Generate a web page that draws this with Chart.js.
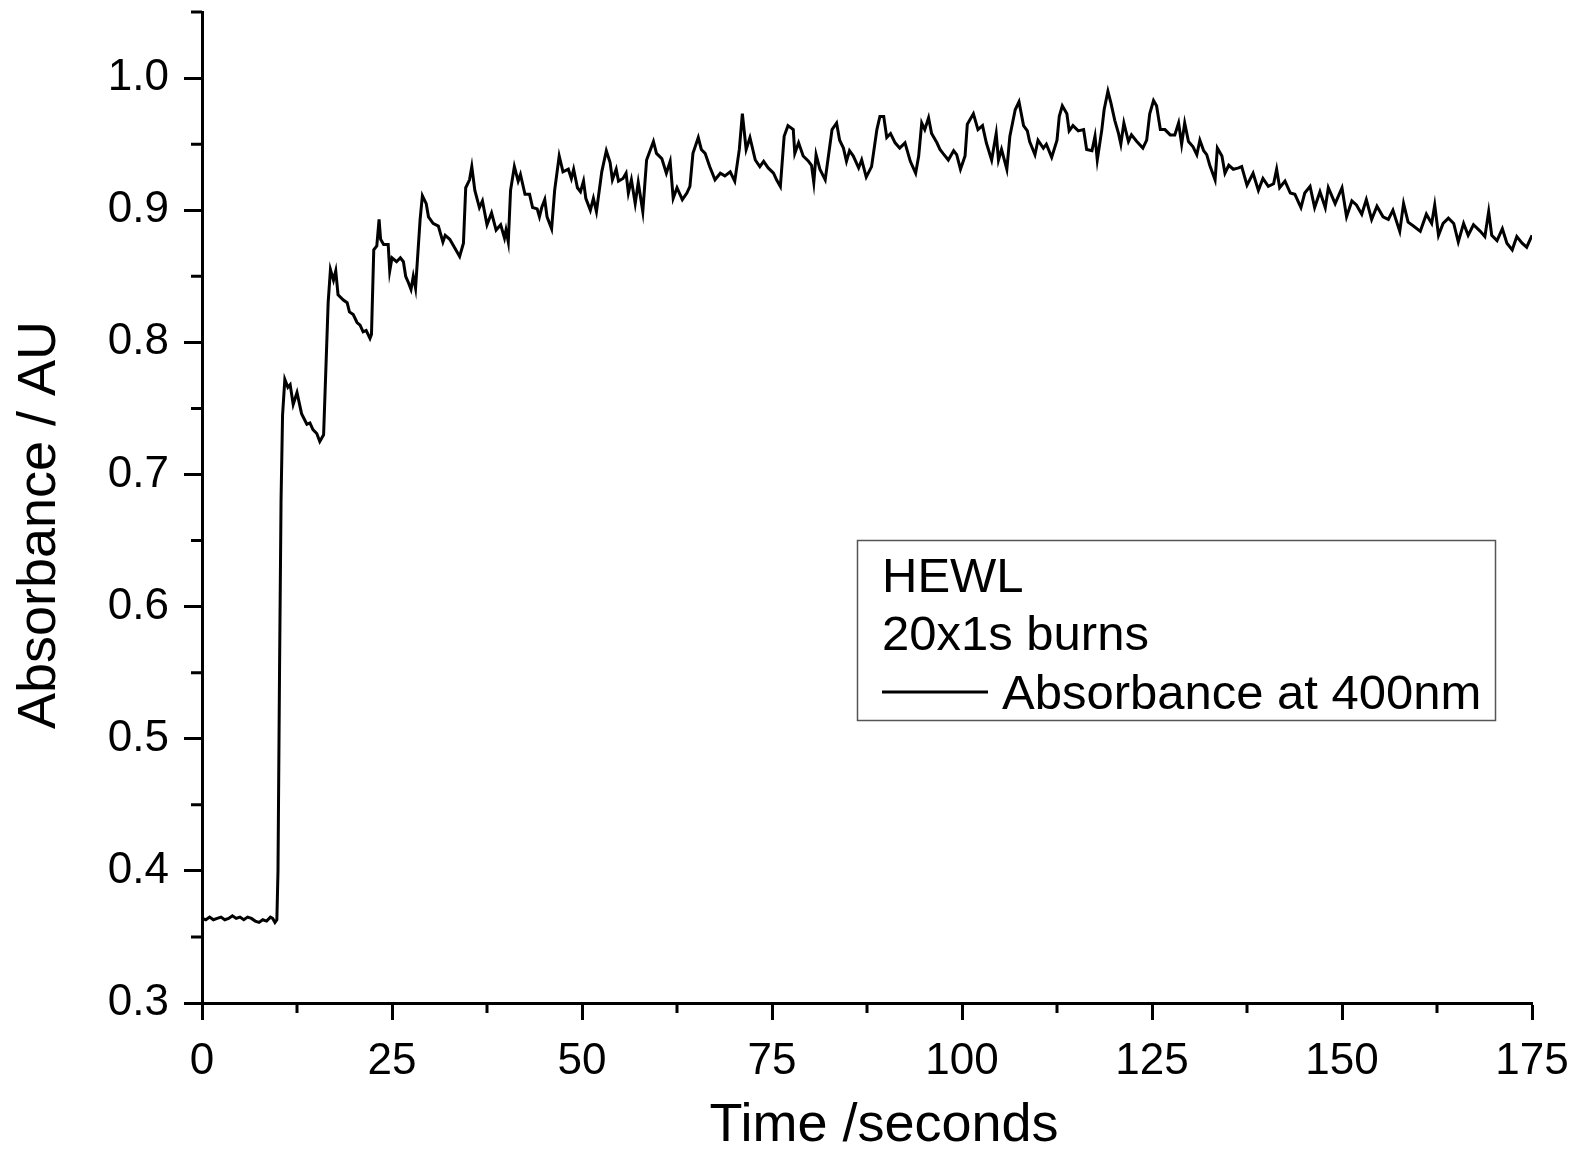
<!DOCTYPE html>
<html>
<head>
<meta charset="utf-8">
<script src="https://cdn.jsdelivr.net/npm/chart.js@4.4.1/dist/chart.umd.min.js"></script>
<style>
    html, body { margin: 0; padding: 0; background: #fff; overflow: hidden; }
    canvas { display: block; }
</style>
</head>
<body>
<canvas id="chart" width="1576" height="1151"></canvas>
<script>
// Data
const times = [
    0.0, 0.5, 1.0, 1.5, 2.0, 2.5, 3.0, 3.5, 4.0, 4.5, 5.0, 5.5, 6.0, 6.5, 7.0, 7.5, 8.0, 8.5, 9.0, 9.3, 9.6, 9.85,
    10.0, 10.2, 10.4, 10.6, 10.9, 11.3, 11.6, 12.0, 12.5, 13.1, 13.8, 14.2, 14.6, 15.1, 15.5, 16.0,
    16.6, 16.9, 17.3, 17.6, 17.9, 18.6, 19.1, 19.4, 19.9, 20.4, 20.8, 21.2, 21.6, 22.1, 22.3,
    22.6, 23.0, 23.3, 23.5, 23.9, 24.5, 24.7, 25.0, 25.6, 26.1, 26.5, 26.8, 27.1, 27.5, 27.8, 28.1,
    28.7, 29.0, 29.5, 29.8, 30.4, 31.1, 31.7, 32.0, 32.6, 33.3, 33.9, 34.4,
    34.7, 35.2, 35.5, 35.9, 36.5, 36.9, 37.5, 38.1, 38.7, 39.3, 39.8, 40.0, 40.3,
    40.6, 41.1, 41.6, 41.9, 42.5, 43.1, 43.5, 44.1, 44.4, 44.7, 45.1, 45.4, 46.0,
    46.4, 47.0, 47.5, 48.2, 48.6, 48.9, 49.4, 49.8, 50.2, 50.5, 51.1, 51.5, 51.9,
    52.6, 53.2, 53.7, 54.0, 54.5, 54.8, 55.4, 55.8, 56.1, 56.5, 57.0, 57.4, 58.0,
    58.5, 59.4, 59.8, 60.5, 61.1, 61.6, 62.0, 62.5, 63.2, 63.8, 64.2,
    64.6, 65.3, 65.7, 66.2, 66.8, 67.5, 68.2, 68.8, 69.5, 70.1,
    70.7, 71.1, 71.6, 72.1, 72.8, 73.4, 73.9, 74.5, 75.2, 75.6, 76.1,
    76.6, 77.1, 77.8, 78.0, 78.5, 79.1, 79.8, 80.2, 80.5, 80.8, 81.3, 82.0,
    82.9, 83.5, 83.9, 84.4, 84.8, 85.2, 85.7, 86.4, 86.8, 87.4, 88.1,
    88.8, 89.2, 89.7, 90.1, 90.6, 91.2, 91.8, 92.5, 93.2, 93.9, 94.3,
    94.7, 95.1, 95.6, 96.0, 96.7, 97.1, 97.5, 98.2, 98.9, 99.3, 99.8, 100.4,
    100.7, 101.5, 102.1, 102.7, 103.2, 103.9, 104.5, 104.8, 105.2, 105.9,
    106.3, 107.0, 107.5, 108.1, 108.6, 108.9, 109.6, 110.0, 110.7, 111.1, 111.8,
    112.5, 112.8, 113.2, 113.8, 114.1, 114.6, 115.3, 116.0, 116.4, 117.1, 117.5, 117.8,
    118.4, 118.7, 119.2, 119.6, 120.1, 120.6, 120.9, 121.3, 121.9, 122.3, 123.0, 123.8, 124.3,
    124.7, 125.2, 125.6, 126.1, 126.7, 127.4, 128.0, 128.5, 128.9, 129.3, 129.8, 130.4, 130.9,
    131.3, 131.8, 132.2, 132.6, 133.3, 133.6, 134.2, 134.6, 135.1, 135.7, 136.4, 136.8,
    137.5, 138.3, 139.0, 139.6, 140.3, 141.0, 141.4, 141.8, 142.5, 143.2, 143.8, 144.6,
    145.1, 145.8, 146.4, 147.1, 147.8, 148.2, 149.1, 150.0, 150.6, 151.3, 151.9, 152.6,
    153.2, 153.9, 154.6, 155.4, 156.1, 156.7, 157.6, 158.1, 158.7, 159.4, 160.3, 161.1,
    161.8, 162.2, 162.7, 163.3, 164.0, 164.7, 165.3, 166.0, 166.6, 167.3, 168.2, 168.8,
    169.3, 169.7, 170.4, 171.1, 171.7, 172.4, 173.0, 173.7, 174.3, 175.0
];
const absorbance = [
    0.364, 0.363, 0.365, 0.363, 0.364, 0.365, 0.363, 0.364, 0.366, 0.364, 0.365, 0.363, 0.365, 0.364, 0.362, 0.361, 0.363, 0.362, 0.365, 0.364, 0.361, 0.363,
    0.400, 0.550, 0.680, 0.745, 0.772, 0.766, 0.768, 0.753, 0.762, 0.746, 0.738, 0.739, 0.734, 0.731, 0.725, 0.730,
    0.830, 0.855, 0.847, 0.854, 0.836, 0.832, 0.830, 0.823, 0.821, 0.815, 0.813, 0.808, 0.809, 0.803, 0.806,
    0.870, 0.873, 0.893, 0.878, 0.874, 0.874, 0.854, 0.864, 0.861, 0.864, 0.861, 0.850, 0.846, 0.840, 0.850, 0.841,
    0.893, 0.911, 0.905, 0.895, 0.890, 0.888, 0.876, 0.881, 0.878, 0.871, 0.865, 0.875,
    0.917, 0.923, 0.933, 0.915, 0.902, 0.907, 0.889, 0.898, 0.885, 0.889, 0.879, 0.885, 0.876,
    0.915, 0.933, 0.922, 0.927, 0.912, 0.912, 0.902, 0.901, 0.895, 0.902, 0.908, 0.895, 0.886,
    0.915, 0.941, 0.929, 0.931, 0.924, 0.931, 0.917, 0.914, 0.922, 0.909, 0.900, 0.909, 0.899,
    0.929, 0.945, 0.936, 0.923, 0.931, 0.922, 0.924, 0.928, 0.913, 0.923, 0.905, 0.921, 0.899,
    0.938, 0.952, 0.943, 0.939, 0.928, 0.937, 0.909, 0.917, 0.908, 0.913, 0.918,
    0.943, 0.955, 0.946, 0.943, 0.933, 0.923, 0.928, 0.926, 0.929, 0.922,
    0.946, 0.973, 0.946, 0.955, 0.938, 0.933, 0.937, 0.932, 0.928, 0.923, 0.918,
    0.956, 0.964, 0.961, 0.943, 0.951, 0.941, 0.937, 0.934, 0.921, 0.942, 0.931, 0.923,
    0.961, 0.966, 0.953, 0.947, 0.937, 0.945, 0.941, 0.932, 0.938, 0.925, 0.933,
    0.961, 0.971, 0.971, 0.955, 0.958, 0.951, 0.947, 0.951, 0.937, 0.928, 0.941,
    0.966, 0.961, 0.970, 0.958, 0.951, 0.946, 0.943, 0.938, 0.945, 0.942, 0.931, 0.941,
    0.965, 0.973, 0.961, 0.964, 0.951, 0.938, 0.958, 0.938, 0.946, 0.931,
    0.956, 0.976, 0.982, 0.964, 0.960, 0.952, 0.942, 0.953, 0.947, 0.950, 0.940,
    0.953, 0.971, 0.979, 0.973, 0.960, 0.964, 0.960, 0.961, 0.946, 0.945, 0.956, 0.938,
    0.961, 0.976, 0.990, 0.981, 0.968, 0.958, 0.950, 0.966, 0.952, 0.957, 0.952, 0.947, 0.953,
    0.973, 0.983, 0.979, 0.961, 0.961, 0.957, 0.957, 0.966, 0.950, 0.966, 0.952, 0.948, 0.942,
    0.953, 0.945, 0.942, 0.934, 0.923, 0.947, 0.941, 0.928, 0.934, 0.931, 0.932, 0.933,
    0.919, 0.928, 0.915, 0.924, 0.918, 0.920, 0.931, 0.917, 0.922, 0.913, 0.912, 0.902,
    0.913, 0.918, 0.902, 0.914, 0.902, 0.917, 0.905, 0.917, 0.895, 0.907, 0.904, 0.897,
    0.908, 0.893, 0.903, 0.895, 0.893, 0.900, 0.884, 0.905, 0.891, 0.888, 0.884, 0.897,
    0.890, 0.904, 0.881, 0.890, 0.894, 0.890, 0.876, 0.890, 0.881, 0.889, 0.884, 0.880,
    0.899, 0.881, 0.877, 0.886, 0.875, 0.870, 0.880, 0.875, 0.872, 0.881
];
const xTicks = [0, 25, 50, 75, 100, 125, 150, 175];
const yTicks = [0.3, 0.4, 0.5, 0.6, 0.7, 0.8, 0.9, 1.0];
const xTitle = "Time /seconds";
const yTitle = "Absorbance / AU";
const legendLines = ["HEWL", "20x1s burns", "Absorbance at 400nm"];

// Font
const FONT = "'Liberation Sans', Arial, sans-serif";
Chart.defaults.font.family = FONT;
Chart.defaults.color = "#000";

// Plugin: minor ticks + axis titles
const axisExtras = {
    id: "axisExtras",
    afterDraw(chart) {
        const {ctx, scales: {x, y}, chartArea} = chart;
        ctx.save();
        ctx.strokeStyle = "#000";
        ctx.lineWidth = 3;
        ctx.beginPath();
        for (let i = 0; i < xTicks.length - 1; i++) {
            const px = x.getPixelForValue((xTicks[i] + xTicks[i + 1]) / 2);
            ctx.moveTo(px, chartArea.bottom);
            ctx.lineTo(px, chartArea.bottom + 10);
        }
        for (let i = 0; i < yTicks.length; i++) {
            const py = y.getPixelForValue(yTicks[i] + 0.05);
            ctx.moveTo(chartArea.left, py);
            ctx.lineTo(chartArea.left - 11, py);
        }
        ctx.stroke();

        // titles sit a bit off centre in the original
        ctx.fillStyle = "#000";
        ctx.font = `54px ${FONT}`;
        ctx.textAlign = "center";
        ctx.textBaseline = "alphabetic";
        ctx.fillText(xTitle, 884, 1141);

        ctx.translate(55, 525);
        ctx.rotate(-Math.PI / 2);
        ctx.fillText(yTitle, 0, 0);
        ctx.restore();
    }
};

// Plugin: legend box
const legendBox = {
    id: "legendBox",
    afterDraw(chart) {
        const ctx = chart.ctx;
        ctx.save();
        ctx.strokeStyle = "#555";
        ctx.lineWidth = 1.5;
        ctx.strokeRect(857.5, 540.5, 638, 180);
        ctx.fillStyle = "#000";
        ctx.font = `49px ${FONT}`;
        ctx.textBaseline = "alphabetic";
        ctx.fillText(legendLines[0], 882, 592);
        ctx.fillText(legendLines[1], 882, 650);
        ctx.fillText(legendLines[2], 1002, 709);
        ctx.strokeStyle = "#000";
        ctx.lineWidth = 3;
        ctx.beginPath();
        ctx.moveTo(882, 692);
        ctx.lineTo(988, 692);
        ctx.stroke();
        ctx.restore();
    }
};

// Chart
const points = times.map((t, i) => ({x: t, y: absorbance[i]}));

new Chart(document.querySelector("#chart"), {
    type: "line",
    data: {
        datasets: [{
            label: legendLines[2],
            data: points,
            borderColor: "#000",
            borderWidth: 3,
            pointRadius: 0,
            tension: 0,
            fill: false
        }]
    },
    options: {
        responsive: false,
        animation: false,
        devicePixelRatio: 1,
        layout: {padding: {top: 12, right: 44, left: 0, bottom: 0}},
        plugins: {legend: {display: false}, tooltip: {enabled: false}},
        scales: {
            x: {
                type: "linear",
                min: 0,
                max: 175,
                afterBuildTicks: (scale) => { scale.ticks = xTicks.map(v => ({value: v})); },
                afterFit: (scale) => { scale.height = 148; scale.paddingLeft = 0; scale.paddingRight = 0; },
                ticks: {font: {size: 44}, color: "#000", padding: 15, maxRotation: 0},
                grid: {display: true, drawOnChartArea: false, drawTicks: true, tickLength: 17, tickWidth: 3, tickColor: "#000"},
                border: {display: true, color: "#000", width: 3},
                title: {display: false}
            },
            y: {
                type: "linear",
                min: 0.3,
                max: 1.05,
                afterBuildTicks: (scale) => { scale.ticks = yTicks.map(v => ({value: v})); },
                afterFit: (scale) => { scale.width = 202; scale.paddingTop = 0; scale.paddingBottom = 0; },
                ticks: {font: {size: 44}, color: "#000", padding: 15, callback: (v) => v.toFixed(1)},
                grid: {display: true, drawOnChartArea: false, drawTicks: true, tickLength: 18, tickWidth: 3, tickColor: "#000"},
                border: {display: true, color: "#000", width: 3},
                title: {display: false}
            }
        }
    },
    plugins: [axisExtras, legendBox]
});
</script>
</body>
</html>
